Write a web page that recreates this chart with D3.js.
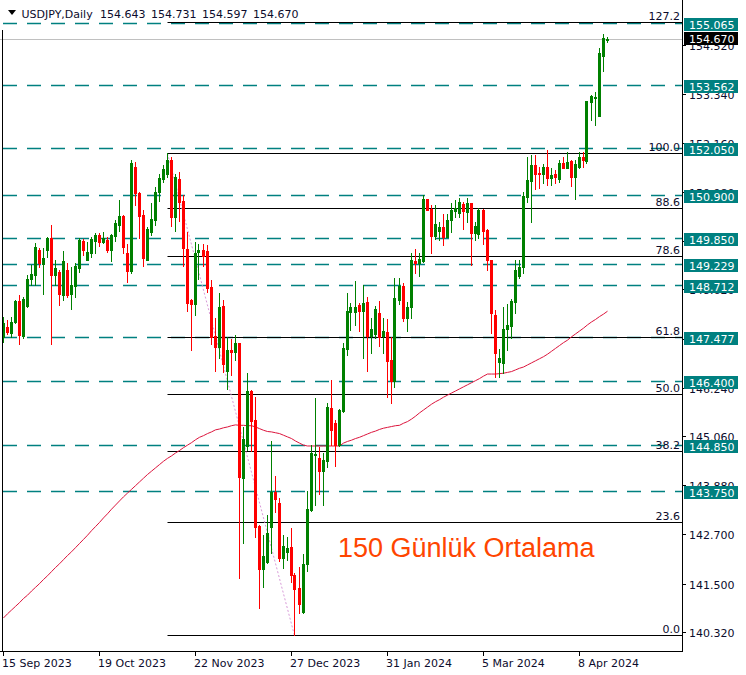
<!DOCTYPE html>
<html><head><meta charset="utf-8">
<script src="https://cdn.jsdelivr.net/npm/d3@7"></script>
<style>html,body{margin:0;padding:0;background:#fff;} svg{display:block;}</style>
</head><body><svg id="c" width="746" height="675"></svg>
<script>
// ---- data (USDJPY daily) ----
const openP = [147.47,147.70,147.57,147.84,148.33,147.49,148.22,148.88,148.97,149.57,
149.23,149.57,149.85,148.97,149.05,148.48,149.09,148.51,148.71,149.14,
149.80,149.33,149.49,149.80,149.93,149.77,149.81,149.57,149.91,150.18,
150.39,149.49,149.07,151.59,150.96,150.42,149.33,150.01,150.30,150.98,
151.30,151.42,151.75,150.38,151.30,150.76,149.59,148.36,148.27,149.53,
149.56,149.55,148.68,147.49,147.23,148.22,146.65,147.15,147.11,147.31,
144.06,144.83,146.16,145.46,142.90,141.85,142.02,142.88,143.72,143.44,
142.11,142.27,142.38,141.71,141.39,140.81,141.97,143.28,144.60,144.55,
144.23,144.47,145.74,145.38,144.85,145.68,147.18,148.08,148.08,148.24,
148.10,148.32,147.49,147.54,148.04,147.49,147.58,146.91,146.41,148.36,
148.71,147.93,148.18,149.30,149.26,149.30,150.80,150.57,149.92,150.04,
150.13,149.89,150.30,150.52,150.47,150.68,150.50,150.70,149.97,149.95,
150.54,150.05,149.33,148.00,146.87,146.83,147.65,147.73,148.32,148.94,
149.15,150.86,151.25,151.63,151.43,151.41,151.59,151.32,151.42,151.30,
151.67,151.55,151.72,151.33,151.59,151.81,151.73,153.16,153.24,152.82,
154.27,154.643];
const highP = [147.96,147.88,147.96,148.36,148.48,148.43,148.97,149.21,149.73,149.61,
149.61,149.89,150.18,149.33,149.09,149.55,149.25,149.17,149.25,149.85,
149.84,149.76,149.88,149.97,149.97,150.01,149.89,149.95,150.30,150.78,
150.42,149.72,151.75,151.71,150.98,150.54,150.12,150.70,151.09,151.42,
151.63,151.91,151.83,151.42,151.45,150.90,150.00,148.38,149.76,149.72,
149.72,149.69,148.84,147.93,148.52,148.36,147.46,147.42,147.51,147.33,
145.30,146.59,146.18,146.02,142.92,142.68,143.16,144.95,144.10,143.56,
142.68,142.64,142.84,141.75,141.91,142.21,143.75,144.85,145.98,144.81,
144.65,145.86,146.43,145.46,145.72,147.31,148.52,148.28,148.82,148.30,
148.72,148.43,147.92,148.22,148.34,147.92,147.89,147.47,148.89,148.89,
148.78,148.32,149.49,149.59,149.49,150.90,150.80,150.66,150.66,150.26,
150.44,150.44,150.70,150.78,150.84,150.72,150.84,150.70,150.26,150.58,
150.56,150.08,149.33,148.12,147.17,148.18,148.26,148.38,149.33,149.34,
150.98,151.83,151.87,151.87,151.59,151.65,151.99,151.55,151.51,151.76,
151.83,151.95,151.76,151.75,151.95,151.95,153.18,153.32,153.40,154.45,
154.80,154.731];
const lowP = [147.34,147.54,147.47,147.80,147.30,147.45,148.20,148.72,148.72,149.15,
148.51,149.39,147.30,148.72,148.24,148.36,148.44,148.14,148.43,149.05,
149.45,149.33,149.40,149.49,149.67,149.73,149.53,149.31,149.80,150.04,
149.49,148.80,149.02,150.66,149.85,149.18,149.33,149.93,150.18,150.76,
151.22,151.34,150.15,150.04,150.27,149.19,148.10,147.14,148.01,148.87,
149.19,148.55,147.30,146.65,146.97,146.63,146.22,146.55,146.91,141.63,
142.49,144.73,144.71,142.62,140.92,141.43,142.00,142.23,143.24,142.05,
141.87,142.07,141.55,140.25,140.78,140.79,141.81,143.26,143.40,143.66,
143.40,144.33,144.85,144.35,144.83,145.66,147.03,147.64,147.76,147.62,
146.95,146.65,147.07,147.43,147.25,147.09,146.01,145.88,146.25,148.26,
147.86,147.62,147.93,149.01,148.93,149.27,150.54,149.51,149.83,149.81,
149.68,149.88,150.01,150.38,150.38,150.07,150.26,149.21,149.81,149.85,
149.71,149.09,147.57,146.49,146.49,146.59,147.15,147.43,148.04,148.89,
149.01,150.72,150.26,151.04,151.06,151.18,151.14,151.14,151.18,151.22,
151.55,151.55,151.12,150.80,151.55,151.59,151.68,152.72,152.60,152.82,
153.90,154.597];
const closeP = [147.81,147.59,147.84,148.33,147.51,148.38,148.88,148.99,149.65,149.25,
149.38,149.86,148.97,149.13,148.51,149.30,148.48,148.72,149.18,149.81,
149.57,149.52,149.83,149.93,149.77,149.87,149.57,149.93,150.22,150.39,
149.65,149.07,151.68,150.94,150.39,149.37,150.09,150.31,150.98,151.32,
151.53,151.75,150.38,151.33,150.72,149.63,148.30,148.27,149.51,149.57,
149.43,148.66,147.47,147.23,148.20,146.82,147.15,147.11,147.33,144.09,
145.00,146.16,145.43,142.88,141.85,142.17,142.73,143.72,143.55,142.11,
142.41,142.35,141.71,141.36,141.00,141.97,143.30,144.65,144.64,144.23,
144.49,145.77,145.22,144.85,145.70,147.19,148.10,148.18,148.18,148.10,
148.30,147.49,147.67,148.14,147.47,147.61,146.89,146.39,148.42,148.71,
147.93,148.20,149.33,149.26,149.35,150.80,150.55,149.92,150.20,150.13,
149.89,150.30,150.54,150.58,150.72,150.52,150.70,149.97,150.15,150.54,
150.04,149.33,148.05,147.07,146.97,147.65,147.76,148.34,149.09,149.15,
150.88,151.26,151.63,151.41,151.41,151.59,151.32,151.38,151.33,151.67,
151.55,151.71,151.34,151.65,151.81,151.76,153.17,153.30,153.28,154.33,
154.71,154.670];
const ma150 = [140.67,140.77,140.86,140.95,141.04,141.14,141.22,141.32,141.41,141.50,
141.60,141.69,141.79,141.89,141.98,142.08,142.18,142.27,142.37,142.47,
142.57,142.67,142.78,142.88,142.98,143.09,143.19,143.30,143.40,143.50,
143.60,143.69,143.78,143.87,143.96,144.05,144.14,144.22,144.30,144.38,
144.46,144.53,144.59,144.66,144.72,144.79,144.85,144.91,144.98,145.04,
145.08,145.13,145.17,145.22,145.24,145.27,145.29,145.32,145.34,145.33,
145.33,145.32,145.32,145.29,145.25,145.21,145.18,145.17,145.15,145.13,
145.09,145.05,145.01,144.95,144.90,144.85,144.83,144.83,144.83,144.83,
144.83,144.83,144.83,144.83,144.83,144.90,144.94,144.97,145.01,145.04,
145.08,145.12,145.16,145.19,145.23,145.26,145.28,145.30,145.32,145.33,
145.38,145.42,145.48,145.55,145.63,145.70,145.77,145.84,145.90,145.95,
146.01,146.06,146.11,146.16,146.21,146.26,146.31,146.36,146.41,146.46,
146.52,146.57,146.57,146.57,146.58,146.59,146.61,146.63,146.67,146.71,
146.74,146.79,146.84,146.89,146.94,146.99,147.05,147.12,147.19,147.26,
147.33,147.39,147.47,147.54,147.61,147.68,147.76,147.83,147.89,147.96,
148.02,148.09];
const dateTickIndex = [0,24,48,72,96,120,144];
const dateTickLabels = ["15 Sep 2023","19 Oct 2023","22 Nov 2023","27 Dec 2023","31 Jan 2024","5 Mar 2024","8 Apr 2024"];
const priceTicks = [140.320,141.500,142.700,143.880,145.060,146.240,147.420,148.620,149.800,150.980,152.160,153.340,154.520];
const levelPrices = [155.065,153.562,152.050,150.900,149.850,149.229,148.712,147.477,146.400,144.850,143.750];
const fibLevels = [0.0,23.6,38.2,50.0,61.8,78.6,88.6,100.0,127.2];
const fibLow = 140.25, fibHigh = 151.91, fibHighIndex = 41, fibLowIndex = 73;
const lastPrice = 154.670;
const titleText = "USDJPY,Daily";
const titleValues = ["154.643","154.731","154.597","154.670"];
const noteText = "150 Günlük Ortalama";

// ---- drawing ----
const svg = d3.select("#c");
const W = 746, H = 675;
const plotRight = 682, plotBottom = 651;
const FONT = "'DejaVu Sans', Verdana, sans-serif";
const GREEN = "#008000", RED = "#ff0000", TEAL = "#008080", INK = "#0c0c2c";

const x = d3.scaleLinear().domain([0, 170]).range([3, 683]);
const y = d3.scaleLinear().domain([fibLow, fibHigh]).range([635.3, 153.3]);
const px = v => Math.floor(x(v)) + 0.5;
const py = v => Math.round(y(v)) + 0.5;

svg.append("rect").attr("width", W).attr("height", H).attr("fill", "#fff");
svg.append("clipPath").attr("id","plot").append("rect")
  .attr("x",0).attr("y",0).attr("width",plotRight).attr("height",plotBottom);
const g = svg.append("g").attr("clip-path","url(#plot)");

// current price line
g.append("line").attr("x1",0).attr("x2",plotRight)
  .attr("y1",py(lastPrice)).attr("y2",py(lastPrice))
  .attr("stroke","#c0c0c0").attr("stroke-width",1);

// teal dashed levels
g.selectAll("line.lvl").data(levelPrices).join("line").attr("class","lvl")
  .attr("x1",3).attr("x2",plotRight)
  .attr("y1",d=>py(d)).attr("y2",d=>py(d))
  .attr("stroke",TEAL).attr("stroke-width",1.3).attr("stroke-dasharray","14,10");

// fibonacci
const fibX0 = px(fibHighIndex);
const fibPrice = l => fibLow + (fibHigh - fibLow) * l / 100;
g.selectAll("line.fib").data(fibLevels).join("line").attr("class","fib")
  .attr("x1",fibX0).attr("x2",plotRight)
  .attr("y1",d=>py(fibPrice(d))).attr("y2",d=>py(fibPrice(d)))
  .attr("stroke","#000").attr("stroke-width",1);
g.selectAll("text.fib").data(fibLevels).join("text").attr("class","fib")
  .attr("x",680).attr("y",d=>py(fibPrice(d))-2.5)
  .attr("text-anchor","end").attr("font-family",FONT).attr("font-size",11)
  .attr("fill",INK).text(d=>d.toFixed(1));
g.append("line")
  .attr("x1",px(fibHighIndex)).attr("y1",py(fibHigh))
  .attr("x2",px(fibLowIndex)).attr("y2",py(fibLow))
  .attr("stroke","#d89ad8").attr("stroke-width",1).attr("stroke-dasharray","2,2");

// moving average
const maLine = d3.line().x((d,i)=>x(i)+0.5).y(d=>y(d)).curve(d3.curveLinear);
g.append("path").attr("d",maLine(ma150)).attr("fill","none")
  .attr("stroke","#dc143c").attr("stroke-width",1);

// candles
const idx = d3.range(openP.length);
const cg = g.append("g");
idx.forEach(i=>{
  const o=openP[i], c=closeP[i], hi=highP[i], lo=lowP[i];
  const col = c >= o ? GREEN : RED;
  const cx = px(i);
  cg.append("line").attr("x1",cx).attr("x2",cx)
    .attr("y1",Math.round(y(hi))).attr("y2",Math.round(y(lo))+1)
    .attr("stroke",col).attr("stroke-width",1);
  const top = Math.round(y(Math.max(o,c))), bot = Math.round(y(Math.min(o,c)));
  cg.append("rect").attr("x",cx-1.5).attr("y",top)
    .attr("width",3).attr("height",Math.max(1,bot-top+1)).attr("fill",col);
});

// annotation
svg.append("text").attr("x",338).attr("y",557).attr("font-family","'Liberation Sans', Arial, sans-serif")
  .attr("font-size",27).attr("fill","#ff4500").text(noteText);

// frame
svg.append("line").attr("x1",plotRight+0.5).attr("x2",plotRight+0.5).attr("y1",0).attr("y2",plotBottom+1)
  .attr("stroke","#000");
svg.append("line").attr("x1",0).attr("x2",plotRight+1).attr("y1",plotBottom+0.5).attr("y2",plotBottom+0.5)
  .attr("stroke","#000");
svg.append("line").attr("x1",2.5).attr("x2",2.5).attr("y1",30).attr("y2",plotBottom)
  .attr("stroke","#000");

// price axis
const ax = svg.append("g");
priceTicks.forEach(t=>{
  ax.append("line").attr("x1",plotRight).attr("x2",plotRight+4)
    .attr("y1",py(t)).attr("y2",py(t)).attr("stroke","#000");
  ax.append("text").attr("x",689).attr("y",py(t)+4).attr("font-family",FONT)
    .attr("font-size",11).attr("fill",INK).text(t.toFixed(3));
});
levelPrices.forEach(l=>{
  ax.append("rect").attr("x",684).attr("y",Math.round(y(l))-5).attr("width",54).attr("height",13).attr("fill",TEAL);
  ax.append("text").attr("x",689).attr("y",Math.round(y(l))+5.5).attr("font-family",FONT)
    .attr("font-size",11).attr("fill","#fff").text(l.toFixed(3));
});
ax.append("rect").attr("x",684).attr("y",Math.round(y(lastPrice))-7).attr("width",54).attr("height",13).attr("fill","#000");
ax.append("text").attr("x",689).attr("y",Math.round(y(lastPrice))+3.5).attr("font-family",FONT)
  .attr("font-size",11).attr("fill","#fff").text(lastPrice.toFixed(3));

// date axis
dateTickIndex.forEach((d,k)=>{
  ax.append("line").attr("x1",px(d)).attr("x2",px(d)).attr("y1",plotBottom).attr("y2",plotBottom+5).attr("stroke","#000");
  ax.append("text").attr("x",px(d)-1.5).attr("y",667).attr("font-family",FONT)
    .attr("font-size",11).attr("fill",INK).text(dateTickLabels[k]);
});

// title
svg.append("path").attr("d","M8,10 L16,10 L12,15 Z").attr("fill","#000");
svg.append("text").attr("x",21.5).attr("y",17.5).attr("font-family",FONT).attr("font-size",11)
  .attr("fill",INK).text(titleText);
const tvx = [100,151,202,253];
titleValues.forEach((v,k)=>svg.append("text").attr("x",tvx[k]).attr("y",17.5).attr("font-family",FONT)
  .attr("font-size",11).attr("fill",INK).text(v));
</script></body></html>
